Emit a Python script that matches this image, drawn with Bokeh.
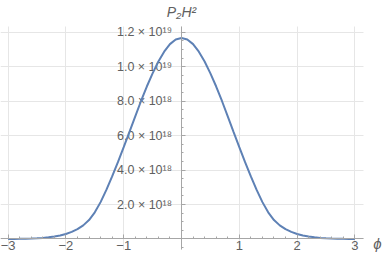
from bokeh.plotting import figure
from bokeh.models import Range1d, SingleIntervalTicker, Label, ColumnDataSource, CustomJSTickFormatter
from bokeh.core.properties import value
from bokeh.embed import file_html
from bokeh.resources import INLINE

# --- data ---
phi_pos = [0.0, 0.1, 0.2, 0.3, 0.4, 0.5, 0.6, 0.7, 0.8, 0.9, 1.0,
           1.1, 1.2, 1.3, 1.4, 1.5, 1.6, 1.7, 1.8, 1.9, 2.0,
           2.1, 2.2, 2.3, 2.4, 2.5, 2.6, 2.7, 2.8, 2.9, 3.0]
p2h2_pos = [11.67e18, 11.58e18, 11.31e18, 10.87e18, 10.30e18, 9.61e18, 8.85e18, 8.01e18, 7.12e18, 6.22e18, 5.33e18,
            4.46e18, 3.63e18, 2.85e18, 2.14e18, 1.55e18, 1.10e18, 0.79e18, 0.57e18, 0.41e18, 0.29e18,
            0.20e18, 0.14e18, 0.095e18, 0.065e18, 0.042e18, 0.027e18, 0.017e18, 0.010e18, 0.006e18, 0.003e18]
phi = [-v for v in phi_pos[:0:-1]] + phi_pos
p2h2 = p2h2_pos[:0:-1] + p2h2_pos

xtick_values = [-3, -2, -1, 1, 2, 3]
xtick_labels = ["−3", "−2", "−1", "1", "2", "3"]
ytick_values = [2e18, 4e18, 6e18, 8e18, 10e18, 12e18]
ytick_labels = ["2.0 × 10¹⁸", "4.0 × 10¹⁸", "6.0 × 10¹⁸", "8.0 × 10¹⁸", "1.0 × 10¹⁹", "1.2 × 10¹⁹"]

# plot range (Mathematica PlotRange with padding)
x_lo, x_hi = -3.13, 3.15
y_lo, y_hi = -0.61e18, 12.33e18

FONT = "Liberation Sans"
TXT = "#606060"
AX = "#a6a6a6"
GRID = "#e6e6e6"

p = figure(width=382, height=261,
           x_range=Range1d(-3.1315, 3.4775), y_range=Range1d(-1.306e18, 13.842e18),
           output_backend="svg", toolbar_location=None,
           min_border_left=0, min_border_right=0, min_border_top=0, min_border_bottom=0)
p.outline_line_color = None

# grids
p.xgrid.ticker = SingleIntervalTicker(interval=1)
p.ygrid.ticker = SingleIntervalTicker(interval=2e18)
p.xgrid.grid_line_color = GRID
p.ygrid.grid_line_color = GRID
p.xgrid.cross_bounds = (y_lo, y_hi)
p.ygrid.cross_bounds = (x_lo, x_hi)
p.xgrid.bounds = (x_lo, x_hi)
p.ygrid.bounds = (y_lo, y_hi)

empty = CustomJSTickFormatter(code="return ''")

# x axis drawn at P2H2 = 0
xa = p.xaxis[0]
xa.fixed_location = 0
xa.bounds = (x_lo, x_hi)
xa.ticker = SingleIntervalTicker(interval=1, num_minor_ticks=5)
xa.formatter = empty
xa.axis_line_color = AX
xa.major_tick_line_color = AX
xa.minor_tick_line_color = AX
xa.major_tick_in = 4
xa.major_tick_out = 0
xa.minor_tick_in = 2
xa.minor_tick_out = 0
xa.major_label_standoff = 0

# y axis drawn at phi = 0
ya = p.yaxis[0]
ya.fixed_location = 0
ya.bounds = (y_lo, y_hi)
ya.ticker = SingleIntervalTicker(interval=2e18, num_minor_ticks=4)
ya.formatter = empty
ya.axis_line_color = AX
ya.major_tick_line_color = AX
ya.minor_tick_line_color = AX
ya.major_tick_in = 4
ya.major_tick_out = 0
ya.minor_tick_in = 2
ya.minor_tick_out = 0
ya.major_label_standoff = 0

# tick labels
xs = ColumnDataSource(dict(x=xtick_values, y=[0] * len(xtick_values), t=xtick_labels))
p.text(x="x", y="y", text="t", source=xs, y_offset=2, text_align="center",
       text_baseline="top", text_font=value(FONT), text_font_size="13px", text_color=TXT)
ys = ColumnDataSource(dict(x=[0] * len(ytick_values), y=ytick_values, t=ytick_labels))
p.text(x="x", y="y", text="t", source=ys, x_offset=-9.5, text_align="right",
       text_baseline="middle", text_font=value(FONT), text_font_size="12.5px", text_color=TXT)

# curve
p.line(phi, p2h2, line_color="#5e81b5", line_width=2)

# axis titles
p.add_layout(Label(x=0, y=13.2e18, text="P₂H²", text_align="center", text_baseline="middle",
                   text_font=FONT, text_font_size="14px", text_font_style="italic", text_color=TXT))
p.add_layout(Label(x=3.391, y=-0.26e18, text="ϕ", text_align="center", text_baseline="middle",
                   text_font=FONT, text_font_size="15px", text_font_style="italic", text_color=TXT))

open("out.html", "w").write(file_html(p, INLINE))
